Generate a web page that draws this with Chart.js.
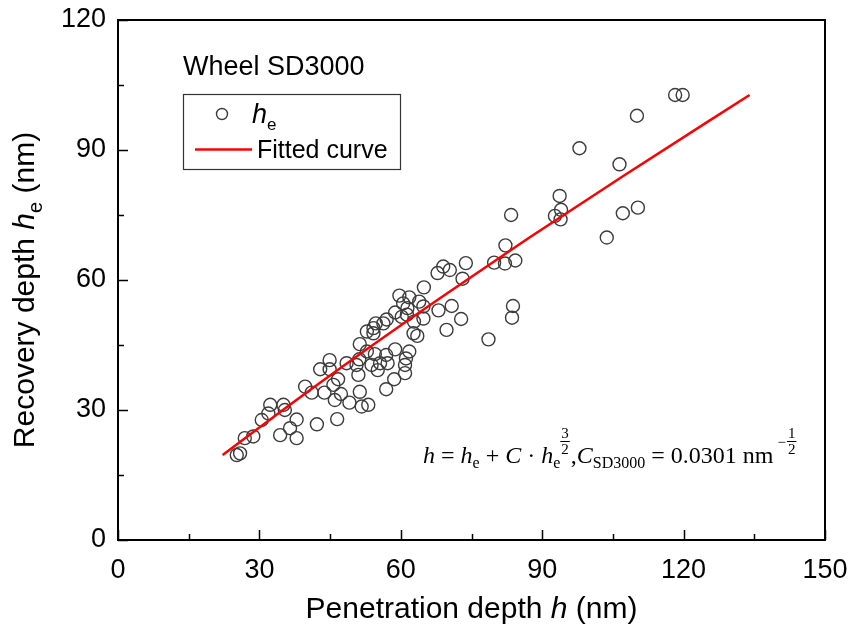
<!DOCTYPE html>
<html>
<head>
<meta charset="utf-8">
<script src="https://cdn.jsdelivr.net/npm/chart.js@4.4.1/dist/chart.umd.min.js"></script>
<style>
  html, body { margin: 0; padding: 0; background: #fff; }
  #wrap { width: 851px; height: 638px; }
</style>
</head>
<body>
<div id="wrap"><canvas id="chart" width="851" height="638"></canvas></div>
<script>
// penetration depth h (nm) of each indent
const hVals = [
  25.2, 25.9, 26.9, 28.7, 30.5, 31.9, 32.3, 35.1, 35.4, 34.4,
  36.5, 37.9, 37.9, 42.2, 46.5, 39.7, 41.1, 42.9, 44.9, 44.9,
  43.8, 45.7, 46.7, 47.3, 46.0, 48.5, 50.6, 51.2, 51.3, 52.8,
  52.8, 54.2, 54.5, 56.9, 58.8, 61.8, 61.1, 60.9, 57.2, 55.6,
  55.1, 53.8, 51.0, 51.3, 49.1, 51.7, 53.1, 56.9, 58.6, 60.9,
  63.5, 62.7, 62.8, 64.8, 60.2, 61.3, 58.8, 57.0, 56.3, 54.7,
  54.2, 64.8, 63.9, 61.8, 59.7, 60.5, 61.4, 64.9, 68.0, 70.8,
  72.8, 69.7, 67.8, 69.0, 70.4, 73.8, 73.1, 78.6, 79.8, 82.2,
  82.1, 84.3, 83.4, 83.8, 83.6, 92.7, 93.9, 94.0, 93.7, 97.9,
  103.7, 106.4, 107.1, 110.3, 110.1, 118.2, 119.8
];
// recovery depth he (nm) of the same indents
const heVals = [
  19.6, 20.0, 23.5, 23.9, 27.7, 29.2, 31.2, 31.2, 30.0, 24.2,
  25.8, 27.8, 23.5, 26.7, 27.9, 35.4, 34.0, 39.4, 39.4, 41.5,
  34.0, 35.8, 37.1, 33.7, 32.3, 40.8, 40.4, 41.7, 45.2, 43.5,
  48.1, 47.7, 42.9, 42.7, 44.0, 43.5, 41.9, 40.4, 40.8, 40.8,
  39.2, 40.4, 38.1, 34.2, 31.7, 30.8, 31.2, 34.8, 37.1, 38.5,
  47.1, 47.7, 50.4, 51.1, 51.5, 52.0, 52.5, 50.9, 50.0, 50.0,
  48.9, 53.9, 55.0, 56.0, 56.4, 54.6, 53.5, 58.3, 53.0, 54.0,
  51.0, 48.5, 61.6, 63.1, 62.3, 63.9, 60.3, 46.3, 64.0, 68.0,
  63.8, 64.5, 75.0, 54.0, 51.3, 74.8, 74.0, 76.2, 79.4, 90.4,
  69.8, 86.7, 75.4, 76.7, 97.9, 102.7, 102.7
];
// fitted curve h = he + C*he^1.5
const fitH  = [22.2, 36.2, 49.5, 68.3, 86.9, 107.2, 134.0];
const fitHe = [19.6, 31.0, 41.5, 55.8, 69.5, 84.0, 102.7];

const xTicks = [0, 30, 60, 90, 120, 150];
const yTicks = [0, 30, 60, 90, 120];
const minorStep = 15;

const SANS = '"Liberation Sans", Arial, sans-serif';
const SERIF = '"Liberation Serif", "Times New Roman", serif';

const points = hVals.map((h, i) => ({ x: h, y: heVals[i] }));
const fitPoints = fitH.map((h, i) => ({ x: h, y: fitHe[i] }));

// draws a row of text pieces, each with its own font and baseline shift
function drawRuns(ctx, runs, x, y) {
  runs.forEach(r => {
    ctx.font = r.font;
    ctx.fillText(r.text, x + (r.dx || 0), y + (r.dy || 0));
    x += ctx.measureText(r.text).width + (r.dx || 0);
  });
  return x;
}
function runsWidth(ctx, runs) {
  let w = 0;
  runs.forEach(r => { ctx.font = r.font; w += ctx.measureText(r.text).width + (r.dx || 0); });
  return w;
}

// stacked small fraction used as an exponent
function drawFraction(ctx, num, den, x, base, size) {
  ctx.font = size + 'px ' + SERIF;
  const w = Math.max(ctx.measureText(num).width, ctx.measureText(den).width);
  ctx.textAlign = 'center';
  ctx.fillText(num, x + w / 2, base - 25);
  ctx.fillText(den, x + w / 2, base - 9);
  ctx.fillRect(x - 1, base - 22, w + 2, 1);
  ctx.textAlign = 'left';
  return x + w;
}

const decorations = {
  id: 'decorations',
  afterDraw(chart) {
    const ctx = chart.ctx;
    const xs = chart.scales.x, ys = chart.scales.y;
    const a = chart.chartArea;
    ctx.save();
    ctx.fillStyle = '#000';
    ctx.strokeStyle = '#000';

    // plot frame
    ctx.lineWidth = 2;
    ctx.strokeRect(a.left, a.top, a.right - a.left, a.bottom - a.top);

    // inward tick marks, major every 30 and minor every 15
    ctx.lineWidth = 1.5;
    ctx.beginPath();
    for (let v = xs.min; v <= xs.max; v += minorStep) {
      const px = Math.round(xs.getPixelForValue(v)) + 0.5;
      const len = v % 30 === 0 ? 10 : 6;
      ctx.moveTo(px, a.bottom);
      ctx.lineTo(px, a.bottom - len);
    }
    for (let v = ys.min; v <= ys.max; v += minorStep) {
      const py = Math.round(ys.getPixelForValue(v)) + 0.5;
      const len = v % 30 === 0 ? 10 : 6;
      ctx.moveTo(a.left, py);
      ctx.lineTo(a.left + len, py);
    }
    ctx.stroke();

    ctx.textBaseline = 'alphabetic';
    ctx.textAlign = 'left';

    // x axis title
    const xRuns = [
      { text: 'Penetration depth ', font: '30px ' + SANS },
      { text: 'h', font: 'italic 30px ' + SANS },
      { text: ' (nm)', font: '30px ' + SANS }
    ];
    const xw = runsWidth(ctx, xRuns);
    drawRuns(ctx, xRuns, (a.left + a.right) / 2 - xw / 2, 618);

    // y axis title, rotated
    const yRuns = [
      { text: 'Recovery depth ', font: '30px ' + SANS },
      { text: 'h', font: 'italic 30px ' + SANS },
      { text: 'e', font: '20px ' + SANS, dy: 8 },
      { text: ' (nm)', font: '30px ' + SANS }
    ];
    const yw = runsWidth(ctx, yRuns);
    ctx.save();
    ctx.translate(34, 290);
    ctx.rotate(-Math.PI / 2);
    drawRuns(ctx, yRuns, -yw / 2, 0);
    ctx.restore();

    // sample label
    ctx.font = '27px ' + SANS;
    ctx.fillText('Wheel SD3000', 183, 75);

    // legend box
    ctx.lineWidth = 1.2;
    ctx.strokeStyle = '#333';
    ctx.strokeRect(183.5, 94.5, 217, 75);
    ctx.beginPath();
    ctx.lineWidth = 1.4;
    ctx.strokeStyle = '#3c3c3c';
    ctx.arc(222, 114, 5.5, 0, Math.PI * 2);
    ctx.stroke();
    drawRuns(ctx, [
      { text: 'h', font: 'italic 27px ' + SANS },
      { text: 'e', font: '17px ' + SANS, dy: 7 }
    ], 252, 123);
    ctx.beginPath();
    ctx.strokeStyle = '#ff0000';
    ctx.lineWidth = 2.5;
    ctx.moveTo(195, 149.5);
    ctx.lineTo(252, 149.5);
    ctx.stroke();
    ctx.font = '25px ' + SANS;
    ctx.fillText('Fitted curve', 257, 158);

    // fit equation
    const base = 463;
    const big = '24px ' + SERIF, ital = 'italic 24px ' + SERIF, small = '16px ' + SERIF;
    let x = 423;
    x = drawRuns(ctx, [
      { text: 'h', font: ital },
      { text: ' = ', font: big },
      { text: 'h', font: ital },
      { text: 'e', font: small, dy: 5 },
      { text: ' + ', font: big },
      { text: 'C', font: ital },
      { text: ' \u00b7 ', font: big },
      { text: 'h', font: ital },
      { text: 'e', font: small, dy: 5 }
    ], x, base);
    x = drawFraction(ctx, '3', '2', x + 1, base, 15);
    x = drawRuns(ctx, [
      { text: ',', font: big },
      { text: 'C', font: ital },
      { text: 'SD3000', font: small, dy: 5 },
      { text: ' = 0.0301 nm', font: big }
    ], x + 2, base);
    ctx.font = '15px ' + SERIF;
    ctx.fillText('\u2212', x + 4, base - 16);
    x += 4 + ctx.measureText('\u2212').width;
    drawFraction(ctx, '1', '2', x + 2, base, 15);

    ctx.restore();
  }
};

new Chart(document.getElementById('chart'), {
  type: 'scatter',
  data: {
    datasets: [
      {
        label: 'Fitted curve',
        data: fitPoints,
        showLine: true,
        borderColor: '#ff0000',
        borderWidth: 2.5,
        pointRadius: 0,
        cubicInterpolationMode: 'monotone',
        fill: false,
        order: 0
      },
      {
        label: 'he',
        data: points,
        pointStyle: 'circle',
        pointRadius: 6.5,
        borderColor: '#3c3c3c',
        borderWidth: 1.4,
        backgroundColor: 'rgba(0,0,0,0)',
        order: 1
      }
    ]
  },
  options: {
    responsive: false,
    animation: false,
    devicePixelRatio: 1,
    layout: { autoPadding: false, padding: { top: 20, right: 26, left: 0, bottom: 0 } },
    plugins: { legend: { display: false }, tooltip: { enabled: false } },
    scales: {
      x: {
        type: 'linear',
        min: 0,
        max: 150,
        afterBuildTicks: s => { s.ticks = xTicks.map(v => ({ value: v })); },
        afterFit: s => { s.height = 98; s.paddingLeft = 0; s.paddingRight = 0; },
        grid: { display: false, drawTicks: false },
        border: { display: false },
        ticks: { color: '#000', padding: 14, maxRotation: 0, font: { family: SANS, size: 27 } }
      },
      y: {
        type: 'linear',
        min: 0,
        max: 120,
        afterBuildTicks: s => { s.ticks = yTicks.map(v => ({ value: v })); },
        afterFit: s => { s.width = 118; s.paddingTop = 0; s.paddingBottom = 0; },
        grid: { display: false, drawTicks: false },
        border: { display: false },
        ticks: { color: '#000', padding: 12, font: { family: SANS, size: 27 } }
      }
    }
  },
  plugins: [decorations]
});
</script>
</body>
</html>
